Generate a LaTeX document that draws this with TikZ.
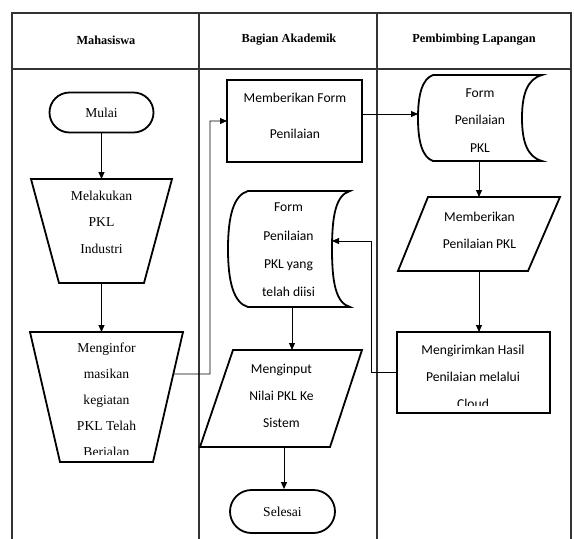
\documentclass[tikz,border=0pt]{standalone}
\usepackage{fontspec}
\setmainfont{Liberation Serif}
\newfontfamily\calibrifont{Carlito}
\usetikzlibrary{arrows.meta,shapes.misc,calc}

\tikzset{
  lane/.style={draw=black!80, line width=1.3pt},
  outline/.style={draw, line width=1.8pt, line join=miter},
  area/.style={inner sep=0pt, outer sep=0pt},
  serif/.style={font=\fontsize{13.6}{26.5}\selectfont, align=center, inner sep=0pt},
  sans/.style={font=\calibrifont\fontsize{13.6}{27.5}\selectfont, align=center, inner sep=0pt},
  head/.style={font=\bfseries\fontsize{12.3}{14}\selectfont, inner sep=0pt},
  term/.style={rounded rectangle, draw, line width=1.8pt, inner sep=0pt,
    font=\fontsize{13.6}{16}\selectfont},
  flow/.style={draw, line width=0.9pt, -{Triangle[length=7pt,width=6pt]}},
}

\begin{document}
\begin{tikzpicture}[x=1pt,y=-1pt]
\useasboundingbox (0,0) rectangle (574,539);

% swimlane table
\draw[lane] (12,539) -- (12,13) -- (571,13) -- (571,539);
\draw[lane] (12,69) -- (571,69);
\draw[lane] (199,13) -- (199,539);
\draw[lane] (377,13) -- (377,539);
\node[head] (h1) at (106,40) {Mahasiswa};
\node[head] (h2) at (289,40) {Bagian Akademik};
\node[head] (h3) at (474,40) {Pembimbing Lapangan};

% ---- Mahasiswa ----
\node[term, minimum width=104pt, minimum height=40pt] (start) at (101.5,112.5) {Mulai};

\node[area, minimum width=141pt, minimum height=104pt] (t1) at (101.5,231) {};
\draw[outline] (t1.north west) -- (t1.north east) -- ([xshift=-28pt]t1.south east)
  -- ([xshift=28pt]t1.south west) -- cycle;
\node[serif] (t1txt) at (101.5,222) {Melakukan\\PKL\\Industri};

\node[area, minimum width=153pt, minimum height=130pt] (t2) at (106.5,397) {};
\draw[outline] (t2.north west) -- (t2.north east) -- ([xshift=-30pt]t2.south east)
  -- ([xshift=30pt]t2.south west) -- cycle;
\begin{scope}
  \clip (30,334) rectangle (183,454);
  \node[serif, font=\fontsize{13.6}{26}\selectfont] (t2txt) at (106.5,401)
    {Menginfor\\masikan\\kegiatan\\PKL Telah\\Berjalan};
\end{scope}

% ---- Bagian Akademik ----
\node[area, draw, line width=1.8pt, minimum width=135pt, minimum height=82pt] (m1) at (294.5,121) {};
\node[sans, font=\calibrifont\fontsize{13.6}{36}\selectfont] (m1txt) at (295,115.5)
  {Memberikan Form\\Penilaian};

\node[area, minimum width=122pt, minimum height=116pt] (d2) at (289,249) {};
\draw[outline] (248,191) -- (350,191)
  .. controls (336,195) and (332,215) .. (332,249)
  .. controls (332,283) and (336,303) .. (350,307)
  -- (248,307)
  .. controls (234,303) and (228,283) .. (228,249)
  .. controls (228,215) and (234,195) .. (248,191) -- cycle;
\node[sans, font=\calibrifont\fontsize{13.6}{28.3}\selectfont] (d2txt) at (288.5,250)
  {Form\\Penilaian\\PKL yang\\telah diisi};

\node[area, minimum width=162pt, minimum height=97pt] (p2) at (281,398.5) {};
\draw[outline] ([xshift=33pt]p2.north west) -- (p2.north east)
  -- ([xshift=-32pt]p2.south east) -- (p2.south west) -- cycle;
\node[sans, font=\calibrifont\fontsize{13.6}{27}\selectfont] (p2txt) at (281.5,396)
  {Menginput\\Nilai PKL Ke\\Sistem};

\node[term, minimum width=105pt, minimum height=43pt] (end) at (282.5,511.5) {Selesai};

% ---- Pembimbing Lapangan ----
\node[area, minimum width=124pt, minimum height=86pt] (d1) at (480,118) {};
\draw[outline] (433,75) -- (542,75)
  .. controls (527,79) and (522,95) .. (522,118)
  .. controls (522,141) and (527,157) .. (542,161)
  -- (433,161)
  .. controls (422,157) and (418,141) .. (418,118)
  .. controls (418,95) and (422,79) .. (433,75) -- cycle;
\node[sans] (d1txt) at (480,120.5) {Form\\Penilaian\\PKL};

\node[area, minimum width=162pt, minimum height=74pt] (p1) at (479,234) {};
\draw[outline] ([xshift=30pt]p1.north west) -- (p1.north east)
  -- ([xshift=-32pt]p1.south east) -- (p1.south west) -- cycle;
\node[sans, font=\calibrifont\fontsize{13.6}{27}\selectfont] (p1txt) at (479.5,230)
  {Memberikan\\Penilaian PKL};

\node[area, draw, line width=1.8pt, minimum width=153pt, minimum height=81pt] (m2) at (473.5,372.5) {};
\begin{scope}
  \clip (398,334) rectangle (549,405.5);
  \node[sans, font=\calibrifont\fontsize{13.6}{27}\selectfont] (m2txt) at (473,377)
    {Mengirimkan Hasil\\Penilaian melalui\\Cloud};
\end{scope}

% ---- connectors ----
\coordinate (t2r) at ($(t2.north east)!0.323!([xshift=-30pt]t2.south east)$);
\coordinate (j1) at (210,374);
\coordinate (d1in) at (418,114);
\coordinate (j2) at (371,241);
\coordinate (d2in) at (332,241);

\draw[flow] (start.south) -- (start.south |- t1.north);
\draw[flow] (t1.south) -- (t1.south |- t2.north);
\draw[flow] (t2r) -- (j1) |- (m1.west);
\draw[flow] ([yshift=7pt]m1.east) -- (d1in);
\draw[flow] (p1.north |- d1.south) -- (p1.north);
\draw[flow] (p1.south) -- (p1.south |- m2.north);
\draw[flow] (m2.west) -| (j2) -- (d2in);
\draw[flow] ([xshift=3pt]d2.south) -- ([xshift=3pt]d2.south |- p2.north);
\draw[flow] ([xshift=1.5pt]end.north |- p2.south) -- ([xshift=1.5pt]end.north);
\end{tikzpicture}
\end{document}
